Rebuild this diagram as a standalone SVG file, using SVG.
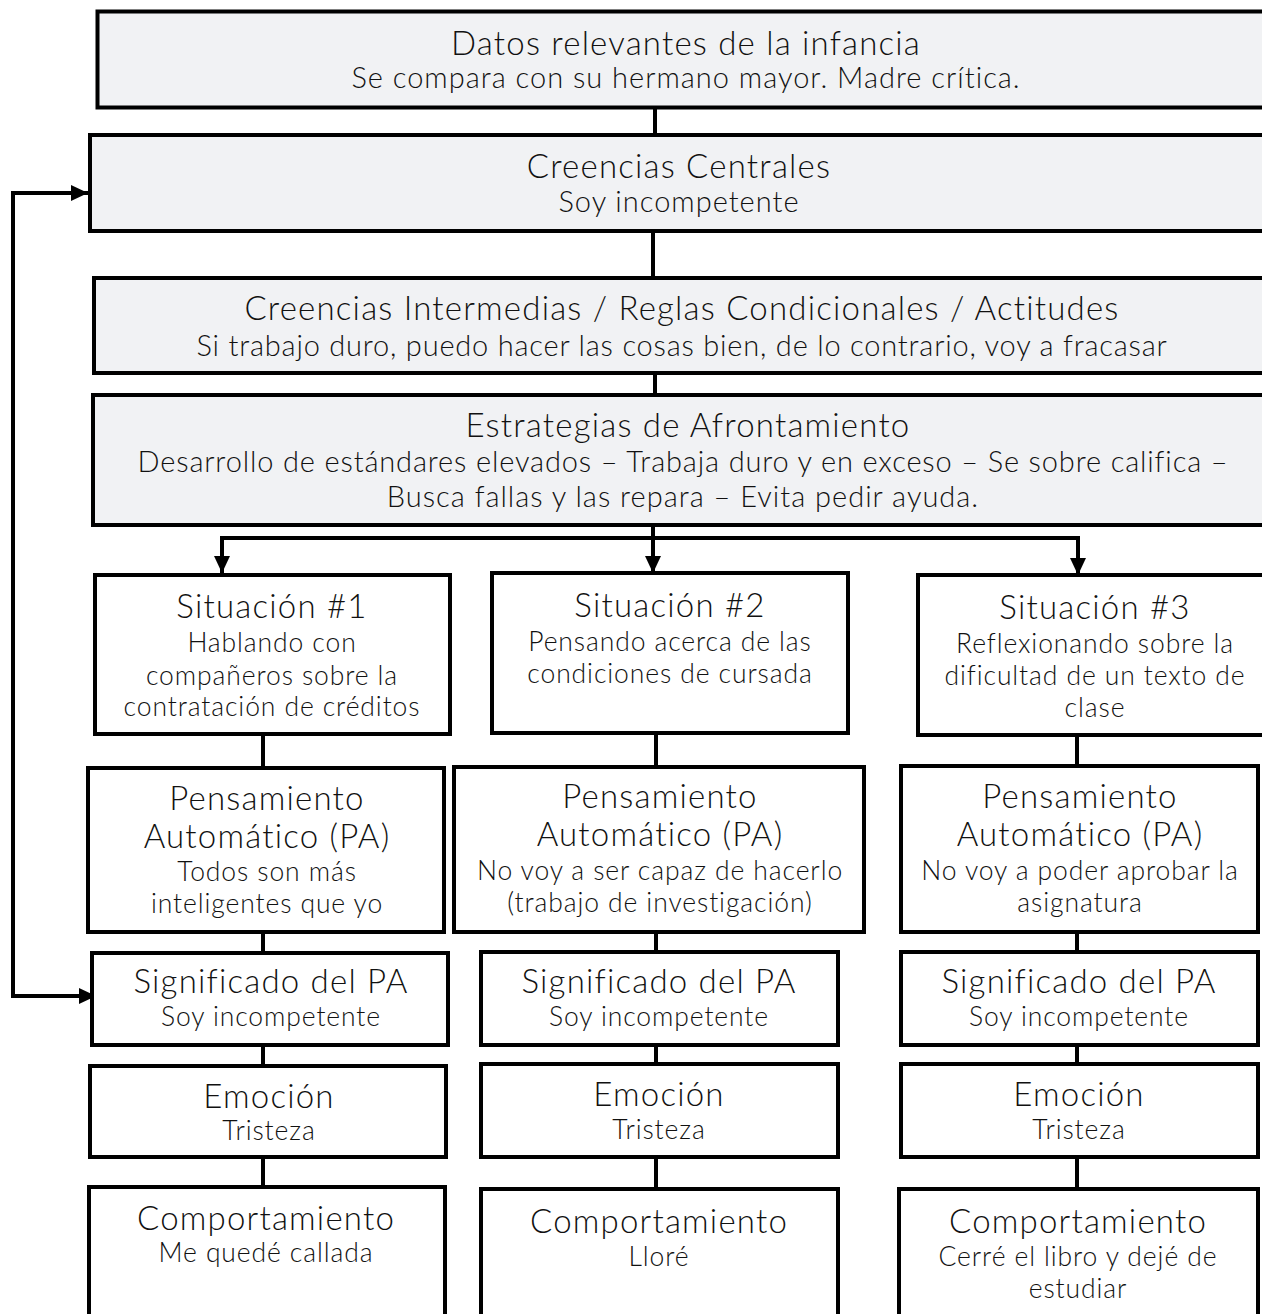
<svg xmlns="http://www.w3.org/2000/svg" width="1262" height="1314" viewBox="0 0 1262 1314">
  <defs>
    <marker id="head" markerUnits="userSpaceOnUse" markerWidth="18" markerHeight="16" refX="17" refY="8" orient="auto-start-reverse">
      <path d="M0,0 L17,8 L0,16 Z" fill="#000"/>
    </marker>
    <style>
      .box { stroke: #000; stroke-width: 4; fill: #fff; }
      .shade { fill: #f1f2f4; }
      .wire { stroke: #000; stroke-width: 4; fill: none; }
      text { font-family: Lato, "Open Sans", "Liberation Sans", sans-serif; font-weight: 300; fill: #111; text-anchor: middle; letter-spacing: 1px; }
      .t { font-size: 33px; letter-spacing: 1.2px; }
      .b { font-size: 29px; }
      .c { font-size: 26.5px; letter-spacing: 0.9px; }
    </style>
  </defs>

  <!-- connectors -->
  <g id="connectors">
    <path class="wire" d="M655,107 V135"/>
    <path class="wire" d="M653,231 V278"/>
    <path class="wire" d="M655,373 V395"/>
    <path class="wire" d="M653,525 V573" marker-end="url(#head)"/>
    <path class="wire" d="M222,573 V538 H1078 V575" marker-start="url(#head)" marker-end="url(#head)"/>
    <path class="wire" d="M96,996 H13 V193 H88" marker-start="url(#head)" marker-end="url(#head)"/>
    <path class="wire" d="M263,734 V768 M263,932 V953 M263,1045 V1066 M263,1157 V1187"/>
    <path class="wire" d="M656,733 V767 M656,932 V952 M656,1045 V1064 M656,1157 V1189"/>
    <path class="wire" d="M1077,735 V766 M1077,932 V952 M1077,1045 V1064 M1077,1157 V1189"/>
  </g>

  <g id="datos">
    <rect class="box shade" x="97.5" y="11.5" width="1200" height="96"/>
    <text class="t" x="686" y="55">Datos relevantes de la infancia</text>
    <text class="b" x="686" y="88">Se compara con su hermano mayor. Madre crítica.</text>
  </g>

  <g id="creencias-centrales">
    <rect class="box shade" x="90" y="135" width="1200" height="96"/>
    <text class="t" x="679" y="178">Creencias Centrales</text>
    <text class="b" x="679" y="212">Soy incompetente</text>
  </g>

  <g id="creencias-intermedias">
    <rect class="box shade" x="94" y="278" width="1200" height="95"/>
    <text class="t" x="682" y="320">Creencias Intermedias / Reglas Condicionales / Actitudes</text>
    <text class="b" x="682" y="356" style="letter-spacing:0.8px">Si trabajo duro, puedo hacer las cosas bien, de lo contrario, voy a fracasar</text>
  </g>

  <g id="estrategias">
    <rect class="box shade" x="93" y="395" width="1200" height="130"/>
    <text class="t" x="688" y="437">Estrategias de Afrontamiento</text>
    <text class="b" x="683" y="472" style="letter-spacing:0.85px">Desarrollo de estándares elevados – Trabaja duro y en exceso – Se sobre califica –</text>
    <text class="b" x="683" y="507">Busca fallas y las repara – Evita pedir ayuda.</text>
  </g>

  <!-- column 1 -->
  <g id="situacion-1">
    <rect class="box" x="95" y="575" width="355" height="159"/>
    <text class="t" x="272" y="618">Situación #1</text>
    <text class="c" x="272" y="652">Hablando con</text>
    <text class="c" x="272" y="685">compañeros sobre la</text>
    <text class="c" x="272" y="716">contratación de créditos</text>
  </g>
  <g id="pa-1">
    <rect class="box" x="88" y="768" width="356" height="164"/>
    <text class="t" x="267" y="810">Pensamiento</text>
    <text class="t" x="267" y="848">Automático (PA)</text>
    <text class="c" x="267" y="881">Todos son más</text>
    <text class="c" x="267" y="913">inteligentes que yo</text>
  </g>
  <g id="significado-1">
    <rect class="box" x="92" y="953" width="356" height="92"/>
    <text class="t" x="271" y="993">Significado del PA</text>
    <text class="c" x="271" y="1026">Soy incompetente</text>
  </g>
  <g id="emocion-1">
    <rect class="box" x="90" y="1066" width="356" height="91"/>
    <text class="t" x="269" y="1108">Emoción</text>
    <text class="c" x="269" y="1140">Tristeza</text>
  </g>
  <g id="comportamiento-1">
    <rect class="box" x="89" y="1187" width="356" height="200"/>
    <text class="t" x="266" y="1230">Comportamiento</text>
    <text class="c" x="266" y="1262">Me quedé callada</text>
  </g>

  <!-- column 2 -->
  <g id="situacion-2">
    <rect class="box" x="492" y="573" width="356" height="160"/>
    <text class="t" x="670" y="617">Situación #2</text>
    <text class="c" x="670" y="651">Pensando acerca de las</text>
    <text class="c" x="670" y="683">condiciones de cursada</text>
  </g>
  <g id="pa-2">
    <rect class="box" x="454" y="767" width="410" height="165"/>
    <text class="t" x="660" y="808">Pensamiento</text>
    <text class="t" x="660" y="846">Automático (PA)</text>
    <text class="c" x="660" y="880">No voy a ser capaz de hacerlo</text>
    <text class="c" x="660" y="912">(trabajo de investigación)</text>
  </g>
  <g id="significado-2">
    <rect class="box" x="481" y="952" width="357" height="93"/>
    <text class="t" x="659" y="993">Significado del PA</text>
    <text class="c" x="659" y="1026">Soy incompetente</text>
  </g>
  <g id="emocion-2">
    <rect class="box" x="481" y="1064" width="357" height="93"/>
    <text class="t" x="659" y="1106">Emoción</text>
    <text class="c" x="659" y="1139">Tristeza</text>
  </g>
  <g id="comportamiento-2">
    <rect class="box" x="481" y="1189" width="357" height="200"/>
    <text class="t" x="659" y="1233">Comportamiento</text>
    <text class="c" x="659" y="1266">Lloré</text>
  </g>

  <!-- column 3 -->
  <g id="situacion-3">
    <rect class="box" x="918" y="575" width="354" height="160"/>
    <text class="t" x="1095" y="619">Situación #3</text>
    <text class="c" x="1095" y="653">Reflexionando sobre la</text>
    <text class="c" x="1095" y="685">dificultad de un texto de</text>
    <text class="c" x="1095" y="717">clase</text>
  </g>
  <g id="pa-3">
    <rect class="box" x="901" y="766" width="357" height="166"/>
    <text class="t" x="1080" y="808">Pensamiento</text>
    <text class="t" x="1080" y="846">Automático (PA)</text>
    <text class="c" x="1080" y="880">No voy a poder aprobar la</text>
    <text class="c" x="1080" y="912">asignatura</text>
  </g>
  <g id="significado-3">
    <rect class="box" x="901" y="952" width="357" height="93"/>
    <text class="t" x="1079" y="993">Significado del PA</text>
    <text class="c" x="1079" y="1026">Soy incompetente</text>
  </g>
  <g id="emocion-3">
    <rect class="box" x="901" y="1064" width="357" height="93"/>
    <text class="t" x="1079" y="1106">Emoción</text>
    <text class="c" x="1079" y="1139">Tristeza</text>
  </g>
  <g id="comportamiento-3">
    <rect class="box" x="899" y="1189" width="359" height="200"/>
    <text class="t" x="1078" y="1233">Comportamiento</text>
    <text class="c" x="1078" y="1266">Cerré el libro y dejé de</text>
    <text class="c" x="1078" y="1298">estudiar</text>
  </g>
</svg>
